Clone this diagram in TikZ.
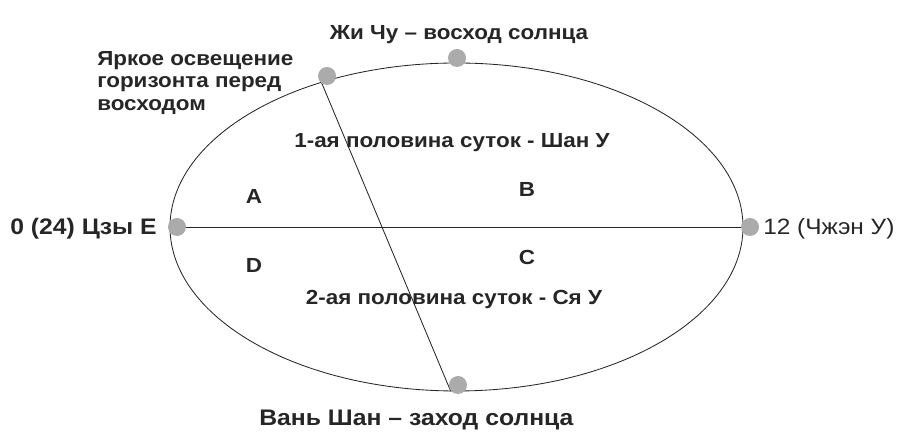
\documentclass[tikz,border=0pt]{standalone}
\usepackage{fontspec}
\setmainfont{Liberation Sans}[FakeStretch=1.1]
\usetikzlibrary{shapes.geometric}

\begin{document}
\begin{tikzpicture}[every node/.style={font=\fontsize{14.5}{16.3}\selectfont\bfseries, text=black!85},
  sun/.style={circle, fill=black!33, inner sep=0pt, minimum size=0.45cm},
  thinline/.style={line width=0.6pt, black!85}]
  \useasboundingbox (0,0) rectangle (22.8,11.15);

  % day circle and its two axes
  \node[ellipse, draw, thinline, inner sep=0pt, minimum width=14.325cm, minimum height=8.2cm] (day) at (11.4125,5.475) {};
  \draw[thinline] (day.west) -- (day.east);
  \draw[thinline] (day.133.3) -- (day.268.4);

  \node[sun] (zichu) at (11.425,9.7) {};
  \node[sun] (dawn) at (8.175,9.25) {};
  \node[sun] (ziye) at (4.425,5.475) {};
  \node[sun] (zhengwu) at (18.75,5.475) {};
  \node[sun] (wanshan) at (11.45,1.525) {};

  \node at (11.475,10.275) {Жи Чу – восход солнца};
  \node[anchor=west, align=left, inner sep=0pt] (dawntext) at (2.425,9.075) {Яркое освещение\\горизонта перед\\восходом};
  \node at (11.3,7.575) {1-ая половина суток - Шан У};
  \node at (11.35,3.65) {2-ая половина суток - Ся У};
  \node[anchor=east, inner sep=0pt, font=\fontsize{16}{18}\selectfont\bfseries] (ziyetext) at (3.925,5.425) {0 (24) Цзы Е};
  \node[anchor=west, inner sep=0pt, font=\fontsize{15.8}{18}\selectfont] (zhengwutext) at (19.075,5.425) {12 (Чжэн У)};
  \node[font=\fontsize{16}{18}\selectfont\bfseries] at (10.41,0.65) {Вань Шан – заход солнца};

  \node (qa) at (6.35,6.25) {A};
  \node (qb) at (13.175,6.425) {B};
  \node (qc) at (13.175,4.725) {C};
  \node (qd) at (6.35,4.525) {D};
\end{tikzpicture}
\end{document}
